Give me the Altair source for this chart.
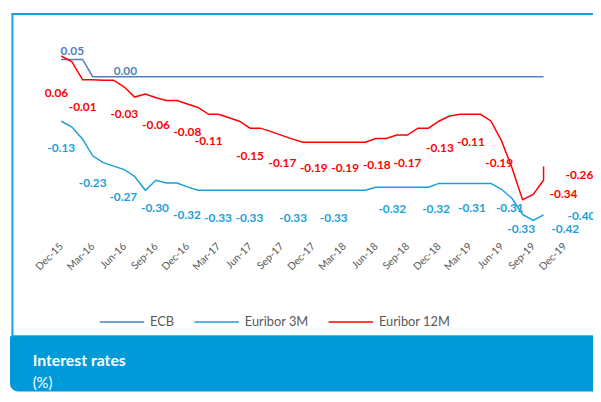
import altair as alt
import pandas as pd

# ---------------- data ----------------
series_names = ["ECB", "Euribor 3M", "Euribor 12M"]
series_colors = ["#4f81bd", "#1a9fdb", "#ff0000"]

# monthly observations Dec-15 .. Oct-19 (47 months)
months = pd.date_range("2015-12-01", "2019-10-01", freq="MS").strftime("%Y-%m-%dT00:00:00").tolist()

ecb = [0.05, 0.05, 0.05] + [0.00] * 44

euribor_3m = [
    -0.129, -0.146, -0.181, -0.229, -0.249, -0.259, -0.269, -0.289, -0.329, -0.300, -0.308, -0.308, -0.319,
    -0.329, -0.329, -0.329, -0.329, -0.329, -0.329, -0.329, -0.329, -0.329, -0.329, -0.329, -0.329,
    -0.329, -0.329, -0.329, -0.329, -0.329, -0.320, -0.320, -0.320, -0.320, -0.320, -0.320, -0.309,
    -0.309, -0.309, -0.309, -0.309, -0.309, -0.326, -0.352, -0.399, -0.416, -0.400,
]

euribor_12m = [
    0.060, 0.043, -0.009, -0.009, -0.010, -0.010, -0.030, -0.059, -0.050, -0.061, -0.069, -0.069, -0.079,
    -0.089, -0.109, -0.109, -0.119, -0.129, -0.149, -0.149, -0.159, -0.170, -0.180, -0.190, -0.190,
    -0.190, -0.190, -0.190, -0.190, -0.190, -0.179, -0.179, -0.169, -0.169, -0.149, -0.149, -0.129,
    -0.114, -0.109, -0.109, -0.109, -0.128, -0.186, -0.263, -0.356, -0.341, -0.300,
]
# last reading of the 12M series in Oct-19
euribor_12m_last_date = "2019-10-01T00:00:00"
euribor_12m_last = -0.260

# quarterly tick labels
tick_dates = pd.date_range("2015-12-01", "2019-12-01", freq="3MS")

# data labels: text, anchor date, anchor level (%)
ecb_lbl_text = ["0.05", "0.00"]
ecb_lbl_date = ["2016-01-02", "2016-06-04"]
ecb_lbl_at = [0.074, 0.017]

m3_lbl_text = ["-0.13", "-0.23", "-0.27", "-0.30", "-0.32", "-0.33", "-0.33", "-0.33", "-0.33",
               "-0.32", "-0.32", "-0.31", "-0.31", "-0.33", "-0.42", "-0.40"]
m3_lbl_date = ["2015-12-01", "2016-03-01", "2016-05-29", "2016-08-29", "2016-11-30", "2017-02-28",
               "2017-05-30", "2017-10-04", "2018-01-30", "2018-07-19", "2018-11-23", "2019-03-07",
               "2019-06-25", "2019-07-28", "2019-12-03", "2020-01-19"]
m3_lbl_at = [-0.206, -0.309, -0.349, -0.380, -0.400, -0.409, -0.409, -0.409, -0.409,
             -0.383, -0.383, -0.380, -0.380, -0.440, -0.440, -0.403]

m12_lbl_text = ["0.06", "-0.01", "-0.03", "-0.06", "-0.08", "-0.11", "-0.15", "-0.17", "-0.19",
                "-0.19", "-0.18", "-0.17", "-0.13", "-0.11", "-0.19", "-0.34", "-0.26"]
m12_lbl_date = ["2015-11-17", "2016-02-01", "2016-06-01", "2016-09-01", "2016-12-01", "2017-02-01",
                "2017-06-01", "2017-09-03", "2017-12-03", "2018-03-04", "2018-06-04", "2018-09-01",
                "2018-12-04", "2019-03-04", "2019-05-25", "2019-11-28", "2020-01-13"]
m12_lbl_at = [-0.046, -0.089, -0.109, -0.140, -0.160, -0.186, -0.229, -0.249, -0.266,
              -0.266, -0.257, -0.249, -0.206, -0.189, -0.251, -0.340, -0.286]

footer_title = "Interest rates"
footer_unit = "(%)"

# ---------------- tables ----------------
rows = []
for name, vals in zip(series_names, [ecb, euribor_3m, euribor_12m]):
    for i, (d, v) in enumerate(zip(months, vals)):
        rows.append({"date": d, "value": v, "series": name, "idx": i})
rows.append({"date": euribor_12m_last_date, "value": euribor_12m_last, "series": "Euribor 12M", "idx": 47})
lines_df = pd.DataFrame(rows)


def lbl_df(texts, dates, ats):
    return pd.DataFrame({"label": texts, "date": [d + "T00:00:00" for d in dates], "at": ats})


W, H = 593, 386
x_scale = alt.Scale(domain=[alt.DateTime(year=2015, month=12, date=1),
                            alt.DateTime(year=2019, month=12, date=1)],
                    range=[54, 564.2])
y_scale = alt.Scale(domain=[-0.5, 0.1], range=[242, 32])

tick_vals = [alt.DateTime(year=int(d.year), month=int(d.month), date=1) for d in tick_dates]

x_axis = alt.Axis(values=tick_vals, format="%b-%y", labelAngle=315, labelAlign="right",
                  labelBaseline="middle", domain=False, ticks=False, grid=False, title=None,
                  labelFont="Lato", labelFontSize=10.5, labelColor="#595959",
                  labelPadding=5, offset=-154, labelOverlap=False, labelFlush=False,
                  labelBound=False, zindex=1)
x_enc = alt.X("date:T", scale=x_scale, axis=x_axis)
y_enc_kw = dict(scale=y_scale, axis=None)

one = pd.DataFrame({"a": [0]})

frame = alt.Chart(one).mark_rect(fill="transparent", stroke="#14a0dc", strokeWidth=2).encode(
    x=alt.value(4.5), x2=alt.value(W + 10), y=alt.value(3.5), y2=alt.value(330))

footer = alt.Chart(one).mark_rect(fill="#009ad8", cornerRadiusBottomLeft=8).encode(
    x=alt.value(2), x2=alt.value(W), y=alt.value(330), y2=alt.value(H))

footer_t1 = alt.Chart(one).mark_text(text=footer_title, align="left", baseline="alphabetic",
                                     font="Lato", fontSize=16, fontWeight="bold", color="white").encode(
    x=alt.value(25), y=alt.value(360))
footer_t2 = alt.Chart(one).mark_text(text=footer_unit, align="left", baseline="alphabetic",
                                     font="Lato", fontSize=15, color="white").encode(
    x=alt.value(25), y=alt.value(383))

lines = alt.Chart(lines_df).mark_line(strokeWidth=1.5).encode(
    x=x_enc,
    y=alt.Y("value:Q", **y_enc_kw),
    color=alt.Color("series:N", scale=alt.Scale(domain=series_names, range=series_colors),
                    legend=alt.Legend(orient="none", legendX=92, legendY=292, direction="horizontal",
                                      title=None, symbolType="stroke", symbolSize=2025,
                                      symbolStrokeWidth=1.5, labelFont="Lato", labelFontSize=13,
                                      labelColor="#595959", columnPadding=17, labelOffset=5)),
    order="idx:Q",
)


def label_layer(df, color):
    return alt.Chart(df).mark_text(font="Lato", fontSize=12, fontWeight="bold", color=color,
                                   align="center", baseline="middle").encode(
        x=x_enc,
        y=alt.Y("at:Q", **y_enc_kw),
        text="label:N")


chart = alt.layer(
    frame, footer, footer_t1, footer_t2, lines,
    label_layer(lbl_df(ecb_lbl_text, ecb_lbl_date, ecb_lbl_at), series_colors[0]),
    label_layer(lbl_df(m3_lbl_text, m3_lbl_date, m3_lbl_at), series_colors[1]),
    label_layer(lbl_df(m12_lbl_text, m12_lbl_date, m12_lbl_at), series_colors[2]),
).properties(
    width=W, height=H, padding=0, autosize=alt.AutoSizeParams(type="none"),
).configure_view(stroke=None)

chart.save("out.html", embed_options={"renderer": "svg", "actions": False})
